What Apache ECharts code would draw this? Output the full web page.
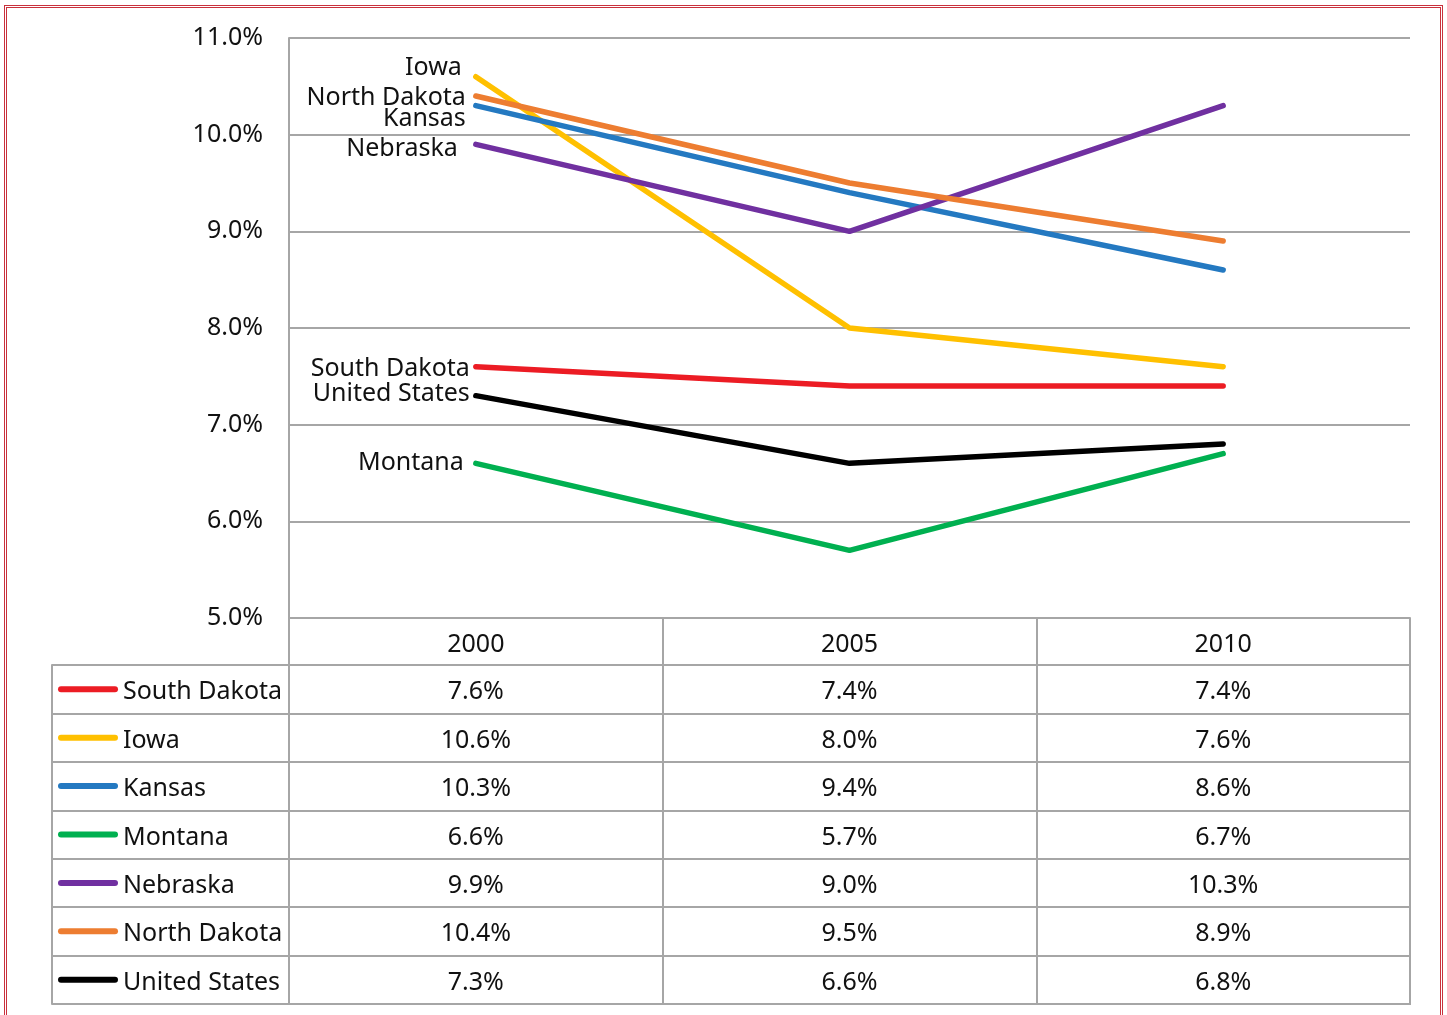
<!DOCTYPE html>
<html>
<head>
<meta charset="utf-8">
<script src="https://cdn.jsdelivr.net/npm/echarts@6/dist/echarts.min.js"></script>
<style>
  html, body { margin: 0; padding: 0; background: #fff; overflow: hidden; }
  #chart { width: 1447px; height: 1015px; }
  #frame {
    position: absolute; left: 4px; top: 5px; width: 1439px; height: 1100px;
    box-sizing: border-box; border: 3px double #C9303C; pointer-events: none;
  }
</style>
</head>
<body>
<div id="chart"></div>
<div id="frame"></div>
<script>
// Survey years and series (percent)
const years = ['2000', '2005', '2010'];
const names = ['South Dakota', 'Iowa', 'Kansas', 'Montana', 'Nebraska', 'North Dakota', 'United States'];
const southDakota  = [7.6, 7.4, 7.4];
const iowa         = [10.6, 8.0, 7.6];
const kansas       = [10.3, 9.4, 8.6];
const montana      = [6.6, 5.7, 6.7];
const nebraska     = [9.9, 9.0, 10.3];
const northDakota  = [10.4, 9.5, 8.9];
const unitedStates = [7.3, 6.6, 6.8];
const yRange = { min: 5, max: 11, step: 1 };

const seriesValues = [southDakota, iowa, kansas, montana, nebraska, northDakota, unitedStates];
const colors = ['#EC1C24', '#FFC000', '#2479C1', '#00B050', '#7030A0', '#ED7D31', '#000000'];
// name tag placement next to the first point: [distance, dx, dy]
const tagPlacement = [[6, 0, 2], [14, 0, -9], [10, 0, 13], [12, 0, 0], [18, 0, 5], [10, 0, 2], [6, 0, -2]];

const FONT = 'Noto Sans';
const TEXT = '#111111';
const GRIDC = '#A6A6A6';
const FS = 25;

const chart = echarts.init(document.getElementById('chart'), null, { renderer: 'canvas' });

const lineSeries = names.map((n, i) => ({
  name: n,
  type: 'line',
  xAxisIndex: 0,
  yAxisIndex: 0,
  data: seriesValues[i],
  symbol: 'circle',
  symbolSize: 0,
  showSymbol: true,
  color: colors[i],
  lineStyle: { width: 5.5, color: colors[i], cap: 'round', join: 'round' },
  label: {
    show: true,
    position: 'left',
    distance: tagPlacement[i][0],
    offset: [tagPlacement[i][1], tagPlacement[i][2]],
    fontFamily: FONT,
    fontSize: FS,
    color: TEXT,
    formatter: p => (p.dataIndex === 0 ? p.seriesName : '')
  },
  emphasis: { disabled: true },
  animation: false
}));

const cellData = [];
names.forEach((n, i) => {
  years.forEach((y, j) => cellData.push([j, i, seriesValues[i][j]]));
});

const rich = { t: { fontFamily: FONT, fontSize: FS, color: TEXT, padding: [6, 0, 0, 5] } };
colors.forEach((c, i) => {
  rich['s' + i] = { width: 60, height: 6, backgroundColor: c, borderRadius: 3 };
});

chart.setOption({
  animation: false,
  textStyle: { fontFamily: FONT },
  grid: [
    { left: 289, right: 37, top: 38, bottom: 397 },
    { left: 289, right: 37, top: 665, bottom: 11, show: true, borderColor: GRIDC, borderWidth: 2 }
  ],
  xAxis: [
    {
      gridIndex: 0, type: 'category', data: years, boundaryGap: true,
      axisLine: { show: true, lineStyle: { color: GRIDC, width: 2 } },
      axisTick: { show: true, length: 47, lineStyle: { color: GRIDC, width: 2 } },
      axisLabel: { show: true, margin: 14, fontSize: FS, color: TEXT, fontFamily: FONT },
      splitLine: { show: false }
    },
    {
      gridIndex: 1, type: 'category', data: years, boundaryGap: true,
      axisLine: { show: false }, axisTick: { show: false }, axisLabel: { show: false },
      splitLine: { show: true, lineStyle: { color: GRIDC, width: 2 } }
    }
  ],
  yAxis: [
    {
      gridIndex: 0, type: 'value', min: yRange.min, max: yRange.max, interval: yRange.step,
      axisLine: { show: true, lineStyle: { color: GRIDC, width: 2 } },
      axisTick: { show: false },
      axisLabel: { margin: 26, fontSize: FS, color: TEXT, fontFamily: FONT, formatter: v => v.toFixed(1) + '%' },
      splitLine: { show: true, lineStyle: { color: GRIDC, width: 2 } }
    },
    {
      gridIndex: 1, type: 'category', data: names, inverse: true, boundaryGap: true,
      axisLine: { show: true, lineStyle: { color: GRIDC, width: 2 } },
      axisTick: { show: true, length: 237, lineStyle: { color: GRIDC, width: 2 } },
      axisLabel: {
        margin: 231, align: 'left', fontFamily: FONT, fontSize: FS, color: TEXT,
        formatter: (v, idx) => '{s' + idx + '| }{t|' + v + '}',
        rich: rich
      },
      splitLine: { show: true, lineStyle: { color: GRIDC, width: 2 } }
    },
    {
      gridIndex: 1, type: 'category', data: names, inverse: true, position: 'left', offset: 237,
      axisLine: { show: true, lineStyle: { color: GRIDC, width: 2 } },
      axisTick: { show: false }, axisLabel: { show: false }, splitLine: { show: false }
    }
  ],
  series: lineSeries.concat([{
    type: 'scatter',
    xAxisIndex: 1,
    yAxisIndex: 1,
    data: cellData,
    symbolSize: 0,
    silent: true,
    itemStyle: { opacity: 1 },
    label: {
      show: true, position: 'inside', offset: [0, 3], fontFamily: FONT, fontSize: FS, color: TEXT,
      formatter: p => p.value[2].toFixed(1) + '%'
    }
  }])
});
</script>
</body>
</html>
